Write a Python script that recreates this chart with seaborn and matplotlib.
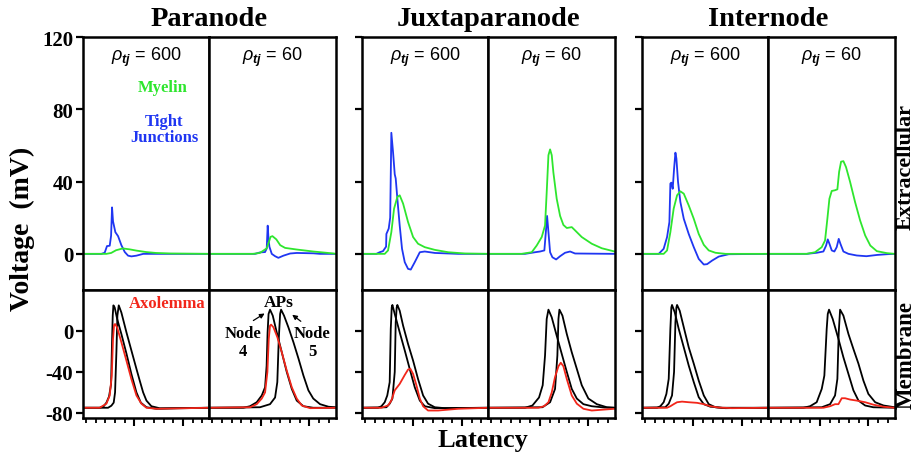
import numpy as np
import pandas as pd
import matplotlib
matplotlib.use("Agg")
import matplotlib.pyplot as plt
import seaborn as sns

# ---------------- data: (latency [a.u.], voltage [mV]) ----------------
# Paranode, rho_tj = 600
PARA600_TJ = [(0,0),(1.89,0),(2.23,0.6),(2.47,4.3),(2.75,4.5),(2.89,10),(2.99,25.7),(3.09,18),(3.33,12),(3.61,9.8),(3.95,4.8),(4.30,1),(4.64,-1),(4.98,-1.4),(5.5,-1),(6.2,0),(13,0)]
PARA600_MY = [(0,0),(2.4,0),(2.9,0.5),(3.4,2),(4.1,3),(4.8,2.5),(5.5,1.8),(6.5,1.0),(7.5,0.5),(9,0.2),(13,0)]
PARA600_N4 = [(0,-75),(1.72,-75),(2.13,-73.5),(2.41,-70),(2.68,-64),(2.89,-52),(2.99,-10),(3.06,15),(3.13,25),(3.26,23),(3.51,12),(3.95,-3),(4.47,-22),(4.98,-42),(5.5,-60),(5.95,-70),(6.53,-74.5),(7.56,-76),(9.97,-75.5),(13,-75)]
PARA600_N5 = [(0,-75),(2.58,-75),(2.92,-73),(3.16,-70),(3.30,-60),(3.44,-20),(3.54,15),(3.68,25),(3.95,18),(4.47,-1.3),(4.98,-19),(5.5,-37),(5.84,-48.5),(6.19,-60),(6.53,-68),(7.04,-73.5),(7.9,-75.5),(13,-75)]
PARA600_AX = [(0,-75),(1.72,-75),(2.41,-71),(2.75,-63),(2.96,-43.6),(3.09,-7.8),(3.2,5.9),(3.3,6.8),(3.51,3.6),(3.95,-11),(4.47,-29),(4.98,-47),(5.5,-63),(6.01,-71),(6.53,-75),(7.56,-76),(13,-75)]
# Paranode, rho_tj = 60
PARA60_TJ = [(0,0),(4.71,0),(5.22,0.8),(5.74,1),(5.91,3),(6.01,15.6),(6.1,8),(6.19,3.9),(6.43,0),(6.77,-1.3),(7.11,-2.2),(7.63,-1),(8.32,0.2),(9.0,0.5),(10.72,0.3),(11.4,0),(13,0)]
PARA60_MY = [(0,0),(4.5,0),(5.2,0.5),(5.9,3),(6.1,6),(6.3,9.4),(6.5,9.8),(6.9,8),(7.3,4.8),(7.8,3.3),(9.0,2.4),(10.7,1.3),(12.8,0.2),(13,0)]
PARA60_N4 = [(0,-75),(3.5,-75),(4.19,-73.5),(4.88,-69.6),(5.4,-63),(5.74,-55),(5.9,-34),(6.0,-1.3),(6.1,16.6),(6.25,20.8),(6.53,15),(6.94,-1.3),(7.46,-20.8),(7.97,-40),(8.49,-56.6),(9.0,-68),(9.69,-73.5),(10.7,-75),(13,-75)]
PARA60_N5 = [(0,-75),(5.22,-74.5),(6.25,-71.5),(6.77,-65),(7.0,-50),(7.15,-7.8),(7.29,16.6),(7.39,20.8),(7.69,15),(8.14,3.6),(8.66,-11),(9.18,-27),(9.69,-43.6),(10.2,-58),(10.7,-66),(11.4,-71.5),(12.27,-74),(13,-74.5)]
PARA60_AX = [(0,-75),(4.19,-74.5),(4.88,-71.5),(5.4,-66),(5.74,-60),(5.98,-40),(6.12,-7.8),(6.25,5.2),(6.36,6.2),(6.6,3.6),(7.01,-6.2),(7.46,-20.8),(7.97,-38.7),(8.49,-55),(9.0,-66),(9.52,-72.8),(10.37,-75.4),(13,-75)]
# Juxtaparanode, rho_tj = 600
JUXTA600_TJ = [(0,0),(1.48,0),(1.82,0.9),(2.16,1.5),(2.48,4),(2.51,11),(2.75,14),(2.9,20),(2.99,55),(3.02,67),(3.2,56),(3.37,44),(3.47,41.7),(3.64,30.5),(3.88,15.7),(4.12,2.8),(4.4,-4.6),(4.74,-8.3),(5.02,-8.7),(5.43,-4.6),(5.95,0.9),(6.46,1.3),(7.5,0.5),(9.9,0),(13,0)]
JUXTA600_MY = [(0,0),(2.34,0),(2.68,1.9),(3.02,12),(3.3,25),(3.64,31.5),(3.88,32.4),(4.23,27.8),(4.74,17.6),(5.26,9.3),(5.77,5.6),(6.46,3.7),(7.5,2.2),(8.87,0.9),(10.6,0.2),(13,0)]
JUXTA600_N4 = [(0,-75),(1.65,-75),(2.0,-73.5),(2.34,-69.6),(2.6,-63),(2.85,-50),(2.96,2),(3.06,23),(3.13,25.4),(3.37,16.6),(3.88,-1.3),(4.4,-19),(4.91,-37),(5.43,-55),(5.95,-68),(6.46,-73.5),(7.49,-75.4),(13,-75)]
JUXTA600_N5 = [(0,-75),(2.51,-74.5),(2.85,-71),(3.13,-66),(3.37,-40),(3.47,8.5),(3.57,23),(3.64,25.4),(3.88,19.8),(4.23,5.2),(4.74,-12.7),(5.26,-29),(5.77,-47),(6.29,-63),(6.8,-71),(7.49,-74.5),(8.52,-75.4),(13,-75)]
JUXTA600_AX = [(0,-75),(1.99,-75),(2.68,-72.8),(3.02,-68),(3.37,-58),(3.88,-51.7),(4.4,-43),(4.74,-37.7),(4.98,-37),(5.26,-42),(5.6,-53),(5.95,-66),(6.29,-73.5),(6.8,-77.7),(7.84,-77.7),(9.9,-76),(13,-75)]
# Juxtaparanode, rho_tj = 60
JUXTA60_TJ = [(0,0),(3.78,0),(4.81,0.9),(5.33,1.3),(5.77,1.9),(5.95,13.9),(6.05,21),(6.19,12),(6.36,0.9),(6.6,-1.9),(6.98,-3.1),(7.39,-1.3),(7.9,0.6),(8.42,1.3),(8.93,0.2),(13,0)]
JUXTA60_MY = [(0,0),(3.44,0),(4.47,0.9),(4.98,4.6),(5.5,9.3),(5.84,15.7),(6.01,34),(6.19,54.6),(6.36,57.8),(6.53,54.6),(6.7,45),(7.04,30.5),(7.39,21),(7.73,16),(8.08,14.3),(8.59,14.8),(8.93,13),(9.62,9.3),(10.65,5.6),(11.68,3.1),(13,1.3)]
JUXTA60_N4 = [(0,-75),(3.78,-75),(4.54,-72.8),(5.22,-65),(5.6,-53),(5.84,-24),(6.01,11.7),(6.19,20.8),(6.53,13.3),(7.04,-4.6),(7.56,-22.4),(8.08,-40),(8.59,-56.6),(9.11,-66),(9.79,-71.5),(10.65,-73.5),(12.0,-74.8),(13,-75)]
JUXTA60_N5 = [(0,-75),(5.57,-74.5),(6.36,-69.6),(6.87,-56.6),(7.11,-24),(7.22,11.7),(7.32,20.8),(7.63,15),(8.08,-3),(8.59,-20.8),(9.11,-37),(9.62,-53),(10.3,-66),(11.17,-71.5),(12.2,-74.5),(13,-75)]
JUXTA60_AX = [(0,-75),(5.15,-75),(5.74,-73.5),(6.19,-69.6),(6.53,-60),(6.87,-45),(7.22,-34.5),(7.46,-31),(7.73,-34.5),(8.08,-47),(8.59,-63),(9.11,-71),(9.79,-76),(10.65,-77.7),(12.03,-76.7),(13,-76)]
# Internode, rho_tj = 600
INTER600_TJ = [(0,0),(1.72,0),(2.23,2.8),(2.58,9.3),(2.82,17.6),(2.92,38.9),(3.02,39.4),(3.16,36),(3.3,47),(3.44,56),(3.54,52.8),(3.71,39.8),(3.95,28.7),(4.3,19.4),(4.81,11),(5.33,3.7),(5.84,-2.8),(6.36,-5.9),(6.7,-5.7),(7.22,-3.7),(7.9,-1.5),(8.93,-0.2),(13,0)]
INTER600_MY = [(0,0),(2.23,0),(2.58,1.9),(2.92,12),(3.26,25),(3.61,32.4),(3.95,34.6),(4.3,33.3),(4.81,26.8),(5.33,19.4),(5.84,11),(6.36,5),(6.87,1.9),(7.56,0.6),(8.6,0),(13,0)]
INTER600_N4 = [(0,-75),(1.55,-75),(1.89,-73.5),(2.23,-69.6),(2.51,-61.5),(2.75,-46.8),(2.92,2),(3.02,23),(3.09,25.4),(3.37,18.2),(3.78,2),(4.3,-16),(4.81,-33.8),(5.33,-50),(5.84,-64.7),(6.36,-71.5),(7.04,-74),(8.25,-75),(13,-75)]
INTER600_N5 = [(0,-75),(2.4,-74.5),(2.75,-71),(3.09,-63),(3.3,-40),(3.44,8.5),(3.54,23),(3.61,25.4),(3.88,19.8),(4.3,3.6),(4.81,-16),(5.33,-32),(5.84,-48.5),(6.36,-63),(6.87,-71.5),(7.56,-74.5),(8.59,-75.4),(13,-75)]
INTER600_AX = [(0,-75),(2.58,-75),(2.92,-73.5),(3.26,-71.5),(3.61,-69.6),(4.12,-69),(4.81,-69.6),(5.67,-70.2),(6.36,-71.5),(7.04,-73.5),(7.9,-74.8),(9.28,-75.4),(13,-75)]
# Internode, rho_tj = 60
INTER60_TJ = [(0,0),(3.95,0),(4.98,0.6),(5.67,1.3),(5.95,4.6),(6.12,8),(6.29,5.6),(6.53,1.9),(6.8,1.3),(7.04,3.7),(7.25,8.3),(7.42,5.6),(7.73,1.3),(8.25,0),(9.1,-0.9),(10.1,-1.3),(11.2,-0.6),(12.2,-0.2),(13,0)]
INTER60_MY = [(0,0),(3.95,0),(4.81,0.9),(5.5,3.7),(5.84,7.4),(6.08,19.4),(6.29,30.5),(6.53,34.8),(6.87,35.2),(7.11,35.7),(7.29,45.4),(7.49,51),(7.73,51.3),(8.0,48),(8.42,39.8),(8.93,28.7),(9.45,18.5),(9.97,10.2),(10.5,4.6),(11.17,1.5),(12.2,0.4),(13,0)]
INTER60_N4 = [(0,-75),(3.61,-75),(4.3,-73.5),(4.98,-69.6),(5.5,-56.6),(5.77,-43.6),(6.01,2),(6.12,16.6),(6.25,20.8),(6.63,11.7),(7.22,-7.8),(7.73,-25.7),(8.25,-42),(8.76,-58),(9.28,-68),(9.97,-72.8),(10.8,-74.5),(13,-75)]
INTER60_N5 = [(0,-75),(5.5,-74.5),(6.36,-71.5),(6.87,-63),(7.11,-46.8),(7.25,-1.3),(7.39,20.8),(7.73,15),(8.25,-3),(8.76,-17.6),(9.28,-32),(9.79,-48.5),(10.3,-61.5),(11.0,-69.6),(11.86,-72.8),(13,-74.5)]
INTER60_AX = [(0,-75),(5.67,-75),(6.36,-73.5),(6.87,-71.5),(7.22,-71.5),(7.56,-65.7),(7.9,-65.7),(8.42,-67),(9.1,-68),(9.97,-69.6),(10.82,-72),(11.86,-74),(13,-75)]

GROUPS = ["Paranode", "Juxtaparanode", "Internode"]
RHO_LABELS = ["600", "60"]
TOP_YTICKS = [0, 40, 80, 120]
BOT_YTICKS = [0, -40, -80]

PANELS = {
    (0, 0): ([PARA600_TJ, PARA600_MY], [PARA600_N4, PARA600_N5, PARA600_AX]),
    (0, 1): ([PARA60_TJ, PARA60_MY], [PARA60_N4, PARA60_N5, PARA60_AX]),
    (1, 0): ([JUXTA600_TJ, JUXTA600_MY], [JUXTA600_N4, JUXTA600_N5, JUXTA600_AX]),
    (1, 1): ([JUXTA60_TJ, JUXTA60_MY], [JUXTA60_N4, JUXTA60_N5, JUXTA60_AX]),
    (2, 0): ([INTER600_TJ, INTER600_MY], [INTER600_N4, INTER600_N5, INTER600_AX]),
    (2, 1): ([INTER60_TJ, INTER60_MY], [INTER60_N4, INTER60_N5, INTER60_AX]),
}

# ---------------- styling ----------------
sns.set_style("white")
plt.rcParams["font.family"] = ["Liberation Serif", "DejaVu Serif"]
plt.rcParams["text.color"] = "black"
plt.rcParams["axes.labelcolor"] = "black"
plt.rcParams["xtick.color"] = "black"
plt.rcParams["ytick.color"] = "black"
plt.rcParams["axes.unicode_minus"] = False
plt.rcParams["mathtext.fontset"] = "custom"
plt.rcParams["mathtext.it"] = "Liberation Sans:italic"
plt.rcParams["mathtext.bf"] = "Liberation Sans:italic:bold"
plt.rcParams["mathtext.rm"] = "Liberation Sans"

GREEN = "#2ee62e"
BLUE = "#1f36f2"
RED = "#f2261a"
BLACK = "#000000"
TOP_COLORS = [BLUE, GREEN]
BOT_COLORS = [BLACK, BLACK, RED]

W, H = 921, 460
fig = plt.figure(figsize=(W / 100, H / 100), dpi=100)
fig.patch.set_facecolor("white")

def fx(px):
    return px / W

def fy(py):
    return 1 - py / H

GROUP_LEFT = [83, 362, 642]
PW = 126.3
TOP, MID, BOT = 38, 291, 419
SPINE_LW = 1.8

def style_axes(ax, show_yticks, show_ylabels, yticks, is_bottom):
    for s in ax.spines.values():
        s.set_linewidth(SPINE_LW)
        s.set_color("black")
    ax.set_xlim(0, 13)
    ax.set_xlabel("")
    ax.set_ylabel("")
    if is_bottom:
        ax.set_xticks([5.3, 10.3])
        ax.set_xticks([0.3 + k for k in range(13)], minor=True)
        ax.tick_params(axis="x", which="major", bottom=True, direction="out",
                       length=6, width=1.5, labelbottom=False)
        ax.tick_params(axis="x", which="minor", bottom=True, direction="out",
                       length=3.5, width=1.3)
    else:
        ax.set_xticks([])
    ax.set_yticks(yticks)
    if show_yticks:
        ax.tick_params(axis="y", left=True, direction="out", length=5, width=1.6,
                       labelleft=show_ylabels, labelsize=15, pad=2)
        for lab in ax.get_yticklabels():
            lab.set_fontweight("bold")
    else:
        ax.tick_params(axis="y", left=False, length=0, labelleft=False)

for g in range(3):
    for c in range(2):
        left = GROUP_LEFT[g] + c * PW
        ax_t = fig.add_axes([fx(left), fy(MID), PW / W, (MID - TOP) / H])
        ax_b = fig.add_axes([fx(left), fy(BOT), PW / W, (BOT - MID) / H])
        top_traces, bot_traces = PANELS[(g, c)]
        for tr, col in zip(top_traces, TOP_COLORS):
            d = pd.DataFrame(tr, columns=["t", "v"])
            sns.lineplot(data=d, x="t", y="v", ax=ax_t, color=col, lw=1.3,
                         estimator=None, sort=False, legend=False)
        for tr, col in zip(bot_traces, BOT_COLORS):
            d = pd.DataFrame(tr, columns=["t", "v"])
            sns.lineplot(data=d, x="t", y="v", ax=ax_b, color=col, lw=1.3,
                         estimator=None, sort=False, legend=False)
        ax_t.set_ylim(-20, 120)
        ax_b.set_ylim(-85, 40)
        style_axes(ax_t, c == 0, g == 0 and c == 0, TOP_YTICKS, False)
        style_axes(ax_b, c == 0, g == 0 and c == 0, BOT_YTICKS, True)
        ax_t.text(0.5, 0.925, r"$\rho_{\mathbf{tj}}$ = " + RHO_LABELS[c],
                  transform=ax_t.transAxes, ha="center", va="center",
                  fontsize=13, color="black", family=["Liberation Sans", "DejaVu Sans"])
    fig.text(fx(GROUP_LEFT[g] + PW), fy(19), GROUPS[g], ha="center", va="center",
             fontsize=20.5, fontweight="bold")

# axis-level labels
fig.text(fx(22), fy(229), "Voltage  (mV)", rotation=90, ha="center", va="center",
         fontsize=20, fontweight="bold")
fig.text(fx(483), fy(441), "Latency", ha="center", va="center",
         fontsize=19, fontweight="bold")
fig.text(fx(906), fy(167), "Extracellular", rotation=90, ha="center", va="center",
         fontsize=16, fontweight="bold")
fig.text(fx(906), fy(355), "Membrane", rotation=90, ha="center", va="center",
         fontsize=16.5, fontweight="bold")

# in-panel annotations
fig.text(fx(163), fy(88), "Myelin", color=GREEN, ha="center", va="center",
         fontsize=12, fontweight="bold")
fig.text(fx(164), fy(130), "Tight\nJunctions", color=BLUE, ha="center", va="center",
         fontsize=12, fontweight="bold", linespacing=1.05)
fig.text(fx(167), fy(304), "Axolemma", color=RED, ha="center", va="center",
         fontsize=12, fontweight="bold")
fig.text(fx(279), fy(303), "APs", color="black", ha="center", va="center",
         fontsize=12.5, fontweight="bold")
fig.text(fx(243), fy(343), "Node\n4", color="black", ha="center", va="center",
         fontsize=12, fontweight="bold", linespacing=1.1)
fig.text(fx(312), fy(343), "Node\n5", color="black", ha="center", va="center",
         fontsize=12, fontweight="bold", linespacing=1.1)
fig.add_artist(matplotlib.patches.FancyArrowPatch(
    (fx(251), fy(323)), (fx(267), fy(313)), transform=fig.transFigure,
    arrowstyle="-|>", mutation_scale=7, lw=0.9, color="black"))
fig.add_artist(matplotlib.patches.FancyArrowPatch(
    (fx(303), fy(324)), (fx(290), fy(314)), transform=fig.transFigure,
    arrowstyle="-|>", mutation_scale=7, lw=0.9, color="black"))

fig.savefig("out.png", dpi=100, facecolor="white")
